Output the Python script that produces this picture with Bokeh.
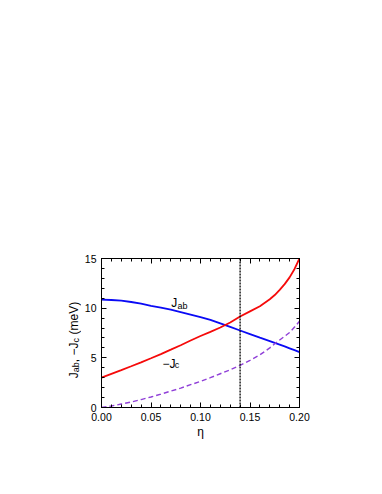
import math
from bokeh.plotting import figure
from bokeh.layouts import row
from bokeh.models import Range1d, FixedTicker, LinearAxis, PrintfTickFormatter, Label, Span
from bokeh.embed import file_html
from bokeh.resources import INLINE

# ---- data ----
eta = [0.00, 0.01, 0.02, 0.03, 0.04, 0.05, 0.06, 0.07, 0.08, 0.09, 0.10,
       0.11, 0.12, 0.13, 0.14, 0.15, 0.16, 0.17, 0.175, 0.18, 0.185, 0.19, 0.195, 0.20]
j_ab = [10.85, 10.82, 10.75, 10.62, 10.45, 10.22, 10.05, 9.85, 9.60, 9.35, 9.10,
        8.83, 8.47, 8.11, 7.75, 7.39, 7.03, 6.68, 6.50, 6.33, 6.15, 5.96, 5.77, 5.58]
red_curve = [3.00, 3.38, 3.76, 4.15, 4.55, 4.96, 5.38, 5.82, 6.27, 6.74, 7.20,
             7.62, 8.05, 8.55, 9.16, 9.68, 10.20, 10.90, 11.32, 11.85, 12.42, 13.10, 13.95, 15.00]
minus_jc = [0.00, 0.15, 0.35, 0.55, 0.80, 1.06, 1.35, 1.65, 1.95, 2.30, 2.62,
            3.00, 3.40, 3.80, 4.25, 4.75, 5.30, 6.00, 6.42, 6.80, 7.17, 7.55, 8.10, 8.69]
eta_marker = 0.14

x_major = [0.00, 0.05, 0.10, 0.15, 0.20]
x_minor = [round(0.01 * i, 2) for i in range(21)]
y_major = [0, 5, 10, 15]
y_minor = list(range(16))

FONT = "Liberation Sans"

# ---- layout ----
LW = 81                      # width of the strip holding the rotated y label
FW, FH = 198, 149
BL, BT, BR, BB = 20, 258, 40, 50
H = BT + FH + BB

p = figure(width=BL + FW + BR, height=H,
           frame_width=FW, frame_height=FH,
           min_border_left=BL, min_border_top=BT, min_border_right=BR, min_border_bottom=BB,
           x_range=Range1d(0, 0.2), y_range=Range1d(0, 15),
           output_backend="svg", toolbar_location=None, tools="")
p.grid.visible = False
p.outline_line_color = "black"
p.outline_line_width = 1
p.background_fill_color = "white"
p.border_fill_color = "white"

xt = FixedTicker(ticks=x_major, minor_ticks=x_minor)
yt = FixedTicker(ticks=y_major, minor_ticks=y_minor)

def style(ax, labels=True):
    ax.axis_line_color = "black"
    ax.axis_line_width = 1
    ax.major_tick_in = 5
    ax.major_tick_out = 0
    ax.minor_tick_in = 3
    ax.minor_tick_out = 0
    ax.major_tick_line_color = "black"
    ax.minor_tick_line_color = "black"
    ax.major_label_text_font = FONT
    ax.major_label_text_font_size = "10.5px"
    ax.major_label_text_color = "black" if labels else None
    ax.major_label_standoff = 5

p.xaxis.ticker = xt
p.yaxis.ticker = yt
p.xaxis.formatter = PrintfTickFormatter(format="%.2f")
style(p.xaxis[0])
style(p.yaxis[0])
p.xaxis.axis_label = "η"
p.xaxis.axis_label_text_font = FONT
p.xaxis.axis_label_text_font_size = "12px"
p.xaxis.axis_label_text_font_style = "normal"
p.xaxis.axis_label_text_color = "black"
p.xaxis.axis_label_text_alpha = 1.0
p.xaxis.axis_label_standoff = 1

top = LinearAxis(ticker=xt)
right = LinearAxis(ticker=yt)
style(top, False)
style(right, False)
top.major_label_text_font_size = "1px"
right.major_label_text_font_size = "1px"
p.add_layout(top, "above")
p.add_layout(right, "right")

# ---- curves ----
p.line(eta, j_ab, line_color="#0a0af5", line_width=1.8)
p.line(eta, red_curve, line_color="#f50a0a", line_width=1.8)
p.line(eta, minus_jc, line_color="#9040d8", line_width=1.4, line_dash="5 3")
p.add_layout(Span(location=eta_marker, dimension="height", line_color="black",
                  line_width=1.3, line_dash="2 1"))

# ---- in-plot labels ----
def lab(fig, x, y, text, size, angle=0.0):
    fig.add_layout(Label(x=x, y=y, text=text, text_font=FONT, text_font_size=f"{size}px",
                         text_color="black", text_baseline="alphabetic", text_align="left",
                         angle=angle, angle_units="rad"))

lab(p, 0.0705, 10.51, "J", 12)
lab(p, 0.0768, 10.26, "ab", 9)
lab(p, 0.0616, 4.41, "−J", 12)
lab(p, 0.0740, 4.24, "c", 9)

# ---- strip with the rotated y-axis label; its frame is aligned with the plot frame ----
py = 15.0 / FH                      # data units per pixel, vertically
q = figure(width=LW, height=H, frame_width=LW, frame_height=FH,
           min_border_left=0, min_border_right=0, min_border_top=BT, min_border_bottom=BB,
           x_range=Range1d(0, LW), y_range=Range1d(0, 15),
           x_axis_location=None, y_axis_location=None,
           output_backend="svg", toolbar_location=None, tools="")
q.grid.visible = False
q.outline_line_color = None
q.background_fill_color = "white"
q.border_fill_color = "white"

W = {"J": 0.5, "a": 0.556, "b": 0.556, ",": 0.278, " ": 0.278, "−": 0.584,
     "c": 0.5, "(": 0.333, ")": 0.333, "m": 0.833, "e": 0.556, "V": 0.667}
# (text, font size, shift toward plot, extra gap before)
pieces = [("J", 12, 0, 0), ("ab", 9, 2.4, 0), (", −J", 12, 0, 0), ("c", 9, 2.4, 0), ("(meV)", 12, 0, 3.6)]
base_x = 73.0
y_pos = 2.94
for txt, size, shift, gap in pieces:
    y_pos += gap * py
    lab(q, base_x + shift, y_pos, txt, size, angle=math.pi / 2)
    y_pos += sum(W[ch] for ch in txt) * size * py

layout = row(q, p, spacing=0)
open("out.html", "w").write(file_html(layout, INLINE))
